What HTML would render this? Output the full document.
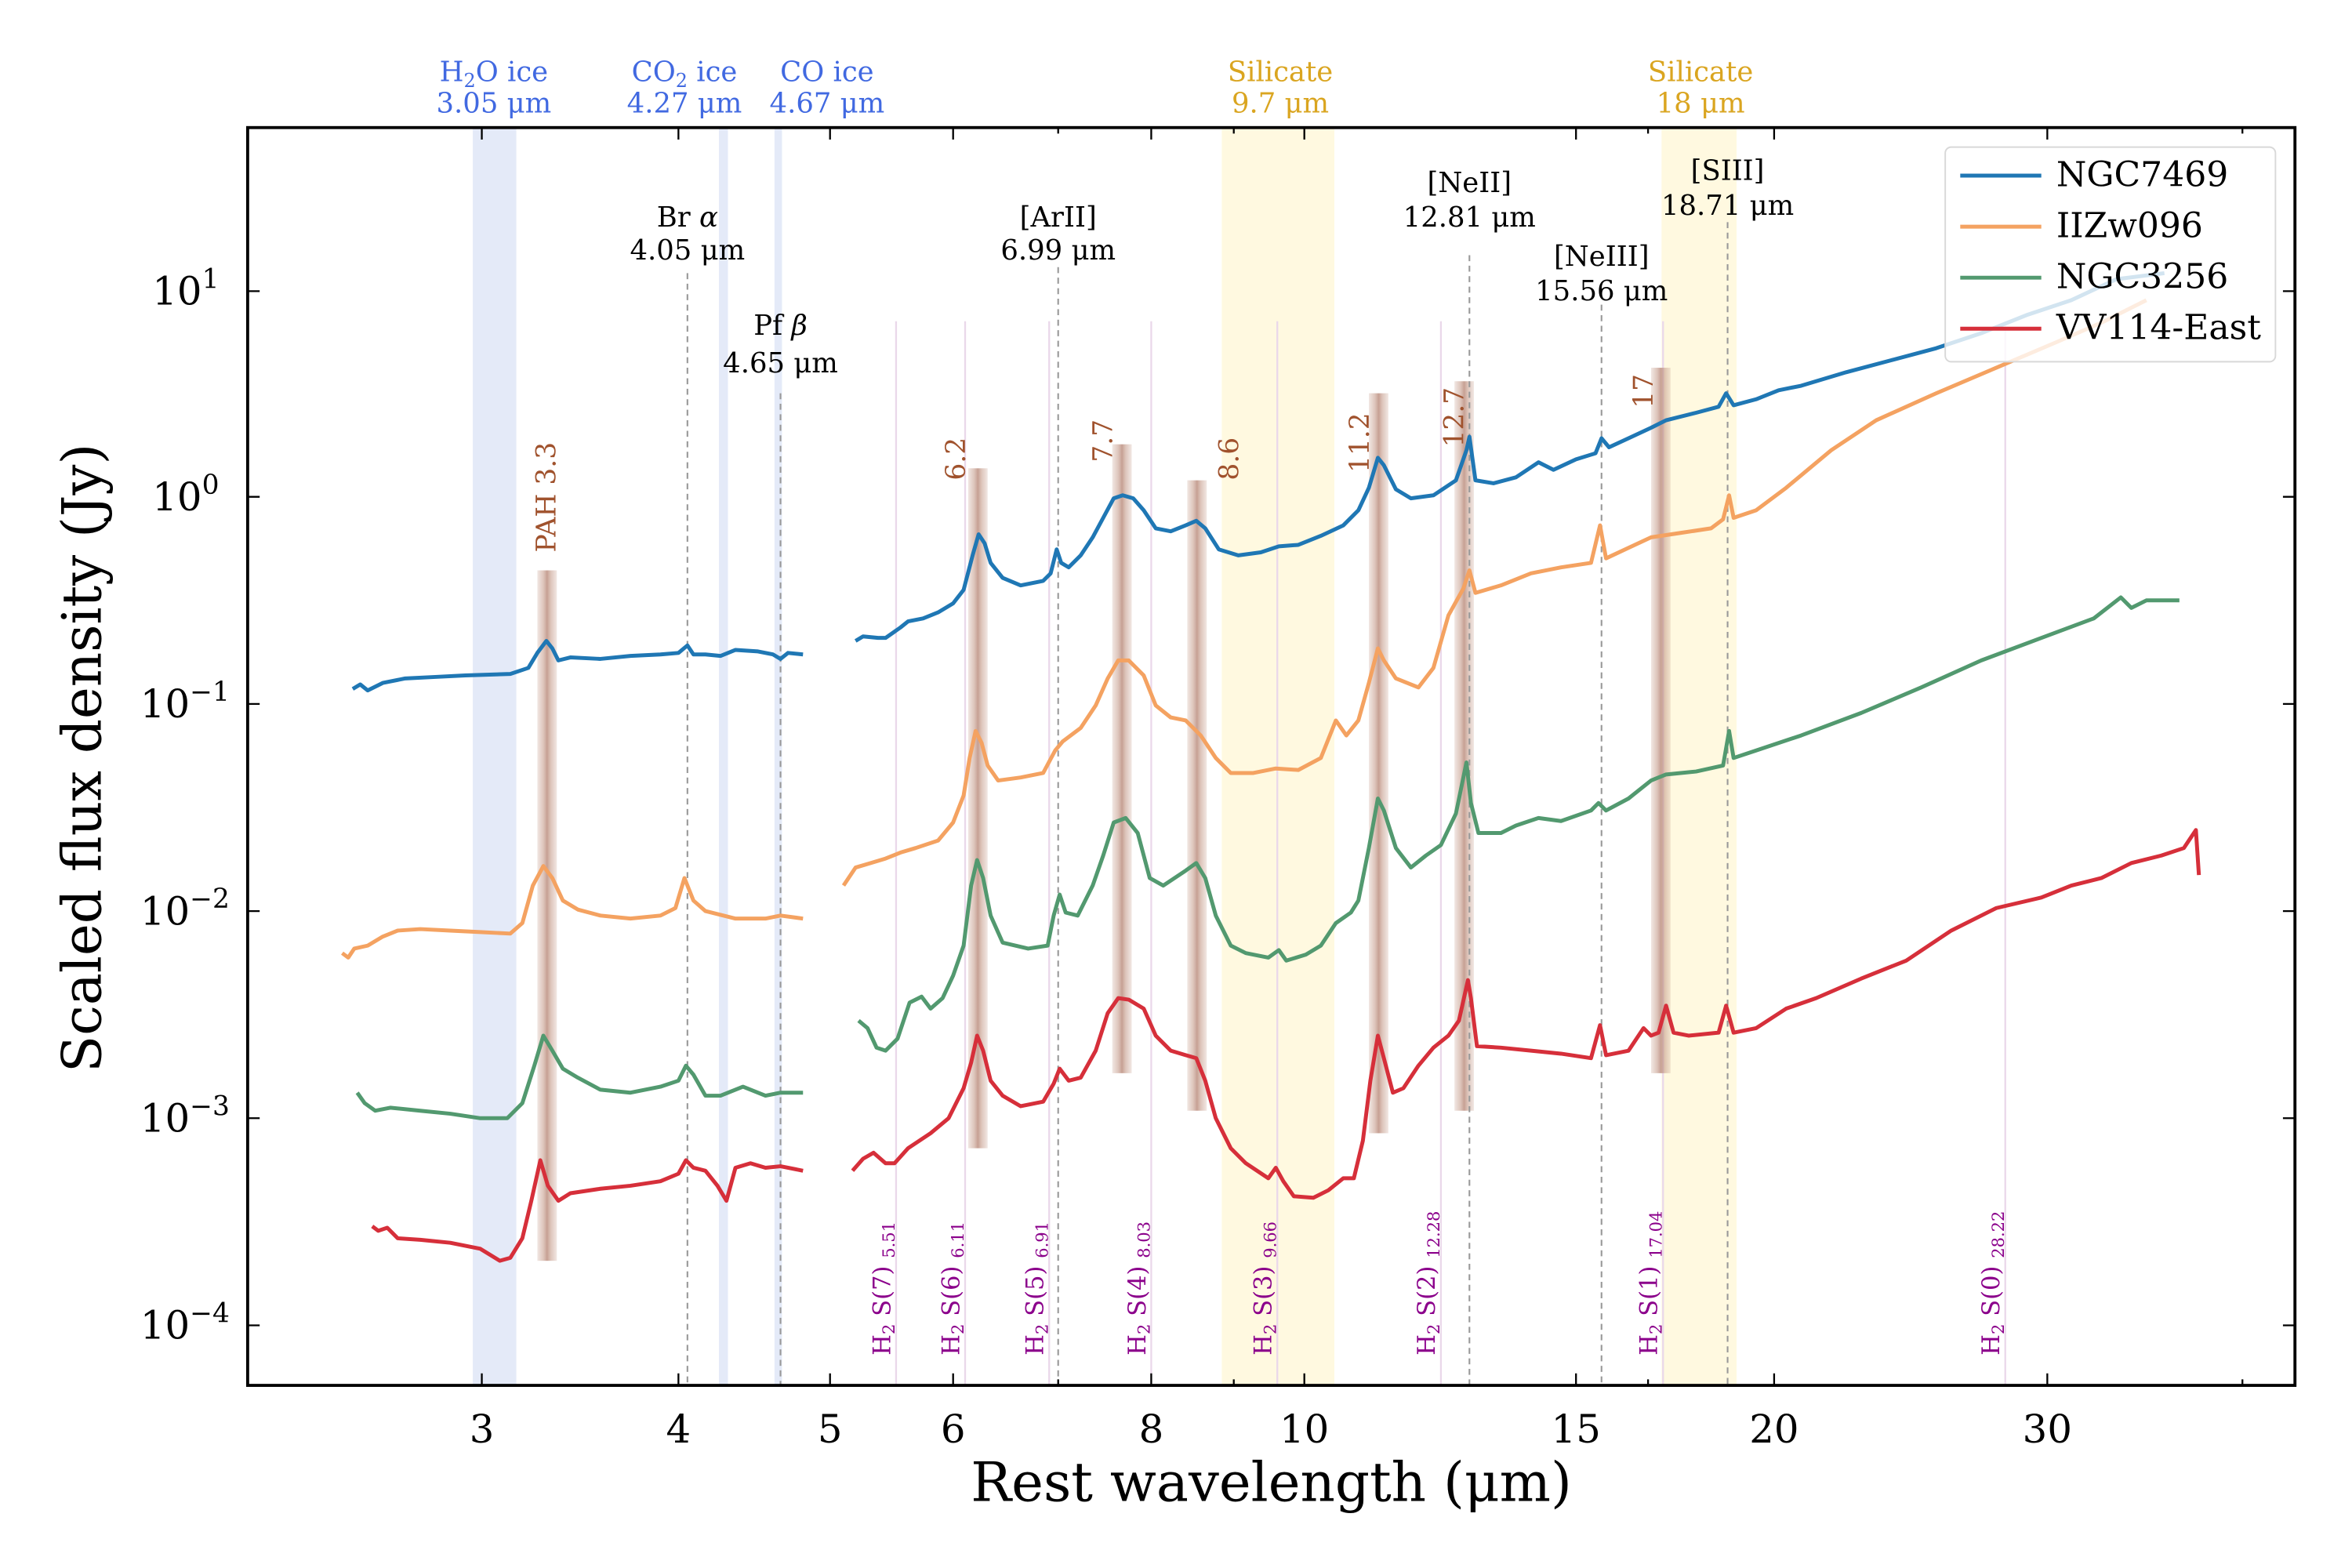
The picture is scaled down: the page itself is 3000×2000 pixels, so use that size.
<!DOCTYPE html>
<html><head><meta charset="utf-8"><style>html,body{margin:0;padding:0;background:#fff}svg{display:block}</style></head>
<body>
<svg xmlns="http://www.w3.org/2000/svg" width="3000" height="2000" viewBox="0 0 1567 1044.67" font-family="'DejaVu Serif','Liberation Serif',serif">
<defs>
<linearGradient id="pah" x1="0" x2="1" y1="0" y2="0">
<stop offset="0" stop-color="#c8a090" stop-opacity="0.25"/>
<stop offset="0.3" stop-color="#c8a090" stop-opacity="0.6"/>
<stop offset="0.5" stop-color="#b88878" stop-opacity="0.8"/>
<stop offset="0.7" stop-color="#c8a090" stop-opacity="0.6"/>
<stop offset="1" stop-color="#c8a090" stop-opacity="0.25"/>
</linearGradient>
<clipPath id="ax"><rect x="165" y="85" width="1364" height="838"/></clipPath>
</defs>
<rect width="1567" height="1044.67" fill="#fff"/>
<g clip-path="url(#ax)">
<rect x="315" y="85" width="29" height="838" fill="#e4eaf8"/>
<rect x="479" y="85" width="6" height="838" fill="#e4eaf8"/>
<rect x="516" y="85" width="5" height="838" fill="#e4eaf8"/>
<rect x="814" y="85" width="75" height="838" fill="#fff9e0"/>
<rect x="1107" y="85" width="50" height="838" fill="#fff9e0"/>
<g stroke="#ead8ea" stroke-width="1.2">
<line x1="597" y1="214" x2="597" y2="923"/><line x1="643" y1="214" x2="643" y2="923"/>
<line x1="699" y1="214" x2="699" y2="923"/><line x1="767" y1="214" x2="767" y2="923"/>
<line x1="851" y1="214" x2="851" y2="923"/><line x1="960" y1="214" x2="960" y2="923"/>
<line x1="1108" y1="214" x2="1108" y2="923"/><line x1="1336" y1="214" x2="1336" y2="923"/>
</g>
<g fill="url(#pah)">
<rect x="358" y="380" width="13" height="460"/>
<rect x="645" y="312" width="13" height="453"/>
<rect x="741" y="296" width="13" height="419"/>
<rect x="791" y="320" width="13" height="420"/>
<rect x="912" y="262" width="13" height="493"/>
<rect x="969" y="254" width="13" height="486"/>
<rect x="1100" y="245" width="13" height="470"/>
</g>
<g stroke="#999" stroke-width="1.1" stroke-dasharray="4,3">
<line x1="458" y1="182" x2="458" y2="923"/><line x1="520" y1="262" x2="520" y2="923"/>
<line x1="705" y1="178" x2="705" y2="923"/><line x1="979" y1="170" x2="979" y2="923"/>
<line x1="1067" y1="203" x2="1067" y2="923"/><line x1="1151" y1="148" x2="1151" y2="923"/>
</g>
<g fill="none" stroke-width="2.6" stroke-linejoin="round">
<polyline stroke="#1f77b4" points="235,459 240,456 245,460 255,455 270,452 290,451 310,450 340,449 352,445 358,435 364,427 368,432 372,440 380,438 400,439 420,437 440,436 452,435 458,430 462,436 470,436 480,437 490,433 505,434 515,436 520,439 525,435 535,436"/>
<polyline stroke="#1f77b4" points="570,427 575,424 585,425 590,425 600,418 605,414 615,412 625,408 635,402 642,393 648,370 652,356 656,362 660,375 668,385 680,390 695,387 700,382 704,366 707,375 712,378 720,370 728,358 735,345 742,332 748,330 755,332 762,340 770,352 780,354 790,350 797,347 803,352 812,366 825,370 840,368 852,364 865,363 880,357 895,350 905,340 912,325 918,305 922,310 930,326 940,332 955,330 970,320 977,300 979,291 983,320 995,322 1010,318 1025,308 1035,313 1050,306 1063,302 1067,292 1072,298 1085,292 1100,285 1110,280 1130,275 1145,271 1150,262 1155,270 1170,266 1185,260 1200,257 1230,248 1260,240 1290,232 1320,222 1350,210 1380,200 1410,186 1442,182"/>
<polyline stroke="#f4a261" points="228,635 232,638 236,632 245,630 255,624 265,620 280,619 300,620 320,621 340,622 348,615 355,590 362,577 368,585 375,600 385,606 400,610 420,612 440,610 450,605 456,585 462,600 470,607 490,612 510,612 520,610 535,612"/>
<polyline stroke="#f4a261" points="562,590 570,578 580,575 590,572 600,568 610,565 625,560 635,548 642,530 646,505 650,487 654,495 658,510 665,520 680,518 695,515 703,500 708,494 720,485 730,470 738,452 745,440 752,440 762,450 770,470 780,478 790,480 800,490 810,505 820,515 835,515 850,512 865,513 880,505 890,480 897,490 905,480 912,455 918,432 922,440 930,452 945,458 955,445 965,410 975,392 979,380 983,395 1000,390 1020,382 1040,378 1060,375 1066,350 1070,372 1085,365 1100,358 1120,355 1140,352 1148,346 1152,330 1155,345 1170,340 1190,325 1220,300 1250,280 1290,262 1330,245 1370,228 1400,215 1430,200"/>
<polyline stroke="#52996f" points="238,728 243,735 250,740 260,738 280,740 300,742 320,745 338,745 348,735 356,710 362,690 368,700 375,712 385,718 400,726 420,728 440,724 452,720 457,710 462,716 470,730 480,730 495,724 510,730 520,728 535,728"/>
<polyline stroke="#52996f" points="572,680 578,685 584,698 590,700 598,692 606,668 614,664 620,672 628,665 635,650 642,630 647,590 651,573 655,585 660,610 668,628 685,632 698,630 702,610 706,596 710,608 718,610 728,590 735,570 742,548 750,545 758,555 766,585 775,590 790,580 797,575 803,585 810,610 820,630 830,635 845,638 852,633 857,640 870,636 880,630 890,615 900,608 905,600 912,565 918,532 922,540 930,565 940,578 950,570 960,563 970,542 977,508 980,535 985,555 1000,555 1010,550 1025,545 1040,547 1060,540 1065,535 1070,540 1085,532 1100,520 1110,516 1130,514 1148,510 1152,487 1155,505 1170,500 1200,490 1240,475 1280,458 1320,440 1360,425 1395,412 1413,398 1420,405 1430,400 1452,400"/>
<polyline stroke="#d62f3a" points="248,817 252,820 258,818 265,825 280,826 300,828 320,832 333,840 340,838 348,825 354,800 360,773 365,790 372,800 380,795 400,792 420,790 440,787 452,782 457,773 462,778 470,780 478,790 484,800 490,778 500,775 510,778 520,777 535,780"/>
<polyline stroke="#d62f3a" points="568,780 575,772 582,768 590,775 596,775 605,765 620,755 632,745 642,725 647,708 651,690 655,700 660,720 668,730 680,737 695,734 702,722 706,712 712,720 720,718 730,700 738,675 745,665 752,666 762,672 770,690 780,700 790,703 797,705 803,720 810,745 820,765 830,775 845,785 850,778 855,787 862,797 875,798 885,793 895,785 902,785 908,760 913,720 918,690 922,705 928,728 935,725 945,710 955,698 965,690 972,680 978,653 980,665 984,697 1000,698 1020,700 1040,702 1060,705 1066,683 1070,703 1085,700 1095,685 1100,690 1105,688 1110,670 1115,688 1125,690 1145,688 1150,670 1155,688 1170,685 1190,672 1210,665 1240,652 1270,640 1300,620 1330,605 1360,598 1380,590 1400,585 1420,575 1440,570 1455,565 1463,553 1465,583"/>
</g>
</g>
<g fill="#a0522d" font-size="18">
<text transform="translate(370,368) rotate(-90)">PAH 3.3</text>
<text transform="translate(643,320) rotate(-90)">6.2</text>
<text transform="translate(741,308) rotate(-90)">7.7</text>
<text transform="translate(825,320) rotate(-90)">8.6</text>
<text transform="translate(912,315) rotate(-90)">11.2</text>
<text transform="translate(975,298) rotate(-90)">12.7</text>
<text transform="translate(1101,272) rotate(-90)">17</text>
</g>
<g fill="#8b008b" font-size="16">
<text transform="translate(593,903) rotate(-90)">H<tspan font-size="11" dy="3">2</tspan><tspan dy="-3"> S(7) </tspan><tspan font-size="11" dy="3">5.51</tspan></text>
<text transform="translate(639,903) rotate(-90)">H<tspan font-size="11" dy="3">2</tspan><tspan dy="-3"> S(6) </tspan><tspan font-size="11" dy="3">6.11</tspan></text>
<text transform="translate(695,903) rotate(-90)">H<tspan font-size="11" dy="3">2</tspan><tspan dy="-3"> S(5) </tspan><tspan font-size="11" dy="3">6.91</tspan></text>
<text transform="translate(763,903) rotate(-90)">H<tspan font-size="11" dy="3">2</tspan><tspan dy="-3"> S(4) </tspan><tspan font-size="11" dy="3">8.03</tspan></text>
<text transform="translate(847,903) rotate(-90)">H<tspan font-size="11" dy="3">2</tspan><tspan dy="-3"> S(3) </tspan><tspan font-size="11" dy="3">9.66</tspan></text>
<text transform="translate(956,903) rotate(-90)">H<tspan font-size="11" dy="3">2</tspan><tspan dy="-3"> S(2) </tspan><tspan font-size="11" dy="3">12.28</tspan></text>
<text transform="translate(1104,903) rotate(-90)">H<tspan font-size="11" dy="3">2</tspan><tspan dy="-3"> S(1) </tspan><tspan font-size="11" dy="3">17.04</tspan></text>
<text transform="translate(1332,903) rotate(-90)">H<tspan font-size="11" dy="3">2</tspan><tspan dy="-3"> S(0) </tspan><tspan font-size="11" dy="3">28.22</tspan></text>
</g>
<g fill="#000" font-size="18.5" text-anchor="middle">
<text x="458" y="151">Br <tspan font-style="italic">α</tspan></text><text x="458" y="173">4.05 μm</text>
<text x="520" y="223">Pf <tspan font-style="italic">β</tspan></text><text x="520" y="248">4.65 μm</text>
<text x="705" y="151">[ArII]</text><text x="705" y="173">6.99 μm</text>
<text x="979" y="128">[NeII]</text><text x="979" y="151">12.81 μm</text>
<text x="1067" y="177">[NeIII]</text><text x="1067" y="200">15.56 μm</text>
<text x="1151" y="120">[SIII]</text><text x="1151" y="143">18.71 μm</text>
</g>
<g font-size="18.5" text-anchor="middle">
<g fill="#4169e1">
<text x="329" y="54">H<tspan font-size="12.5" dy="4">2</tspan><tspan dy="-4">O ice</tspan></text><text x="329" y="75">3.05 μm</text>
<text x="456" y="54">CO<tspan font-size="12.5" dy="4">2</tspan><tspan dy="-4"> ice</tspan></text><text x="456" y="75">4.27 μm</text>
<text x="551" y="54">CO ice</text><text x="551" y="75">4.67 μm</text>
</g>
<g fill="#daa520">
<text x="853" y="54">Silicate</text><text x="853" y="75">9.7 μm</text>
<text x="1133" y="54">Silicate</text><text x="1133" y="75">18 μm</text>
</g>
</g>
<rect x="1296" y="98" width="220" height="143" rx="4" fill="#fff" fill-opacity="0.8" stroke="#d8d8d8" stroke-width="1"/>
<g stroke-width="2.6">
<line x1="1306" y1="117" x2="1360" y2="117" stroke="#1f77b4"/>
<line x1="1306" y1="151" x2="1360" y2="151" stroke="#f4a261"/>
<line x1="1306" y1="185" x2="1360" y2="185" stroke="#52996f"/>
<line x1="1306" y1="219" x2="1360" y2="219" stroke="#d62f3a"/>
</g>
<g font-size="23" fill="#000">
<text x="1370" y="124">NGC7469</text><text x="1370" y="158">IIZw096</text>
<text x="1370" y="192">NGC3256</text><text x="1370" y="226">VV114-East</text>
</g>
<rect x="165" y="85" width="1364" height="838" fill="none" stroke="#000" stroke-width="2"/>
<g stroke="#000" stroke-width="1.2">
<path d="M321,923v-8M452,923v-8M553,923v-8M635,923v-8M767,923v-8M869,923v-8M1050,923v-8M1182,923v-8M1364,923v-8M321,85v8M452,85v8M553,85v8M635,85v8M767,85v8M869,85v8M1050,85v8M1182,85v8M1364,85v8"/>
<path d="M705,923v-4M822,923v-4M1098,923v-4M1494,923v-4M705,85v4M822,85v4M1098,85v4M1494,85v4"/>
<path d="M165,194h8M165,331h8M165,469h8M165,607h8M165,745h8M165,883h8M1529,194h-8M1529,331h-8M1529,469h-8M1529,607h-8M1529,745h-8M1529,883h-8"/>
</g>
<g stroke="#000" stroke-width="1">
<path id="minor" d=""/>
</g>
<g font-size="26" fill="#000" text-anchor="middle">
<text x="321" y="961">3</text><text x="452" y="961">4</text><text x="553" y="961">5</text><text x="635" y="961">6</text><text x="767" y="961">8</text><text x="869" y="961">10</text><text x="1050" y="961">15</text><text x="1182" y="961">20</text><text x="1364" y="961">30</text>
</g>
<g font-size="26" fill="#000" text-anchor="end">
<text x="146" y="203">10<tspan font-size="18" dy="-11">1</tspan></text>
<text x="146" y="340">10<tspan font-size="18" dy="-11">0</tspan></text>
<text x="153" y="478">10<tspan font-size="18" dy="-11">−1</tspan></text>
<text x="153" y="616">10<tspan font-size="18" dy="-11">−2</tspan></text>
<text x="153" y="754">10<tspan font-size="18" dy="-11">−3</tspan></text>
<text x="153" y="892">10<tspan font-size="18" dy="-11">−4</tspan></text>
</g>
<text x="847" y="1000" font-size="36" text-anchor="middle">Rest wavelength (μm)</text>
<text transform="translate(67,505) rotate(-90)" font-size="36" text-anchor="middle">Scaled flux density (Jy)</text>
<script>
(function(){var d="";var dec=137.8;var base=[194,331,469,607,745,883,1021];
for(var i=0;i<base.length;i++){for(var k=2;k<=9;k++){var y=base[i]-dec*Math.log10(k);if(y<86||y>922)continue;d+="M165,"+y.toFixed(1)+"h4M1529,"+y.toFixed(1)+"h-4";}}
document.getElementById("minor").setAttribute("d",d);})();
</script>
</svg>
</body></html>
